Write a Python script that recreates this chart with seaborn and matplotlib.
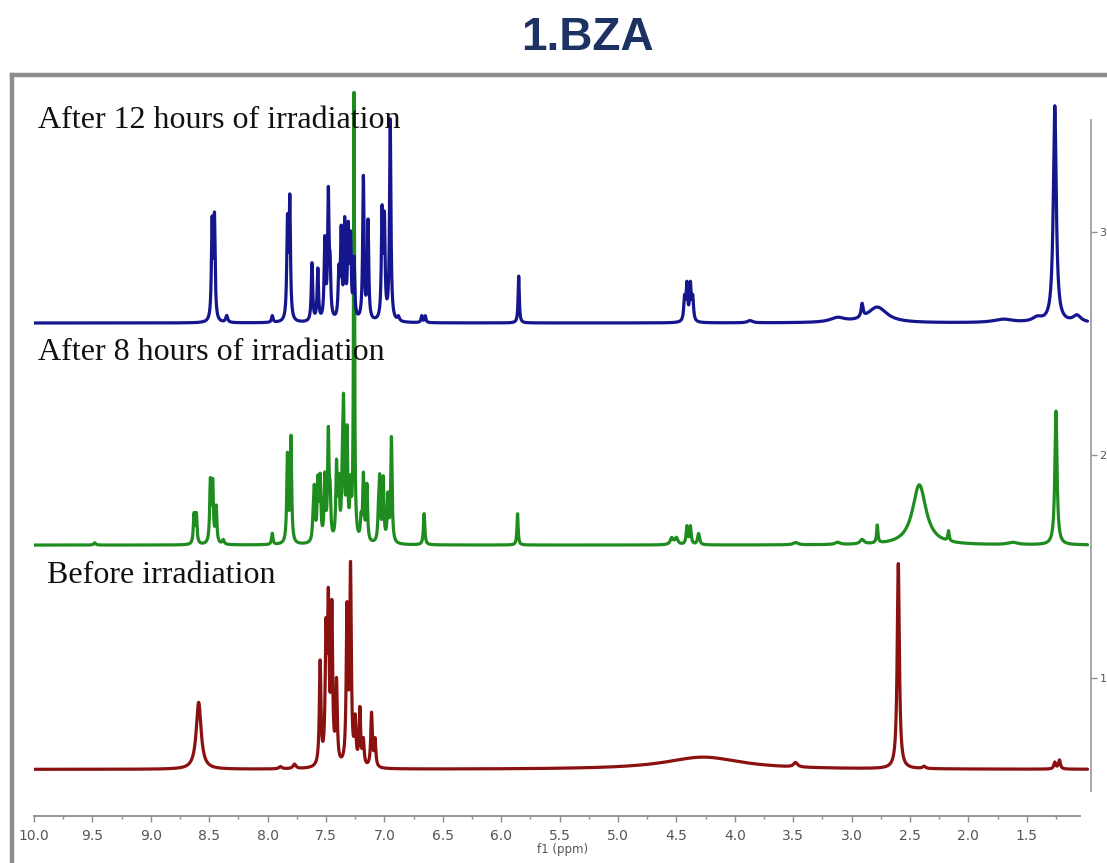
import numpy as np
import pandas as pd
import seaborn as sns
import matplotlib.pyplot as plt
from matplotlib.lines import Line2D

# Peak lists: shift (ppm), height, line width (ppm)
h12_ppm = [8.475, 8.455, 8.35, 7.96, 7.83, 7.81, 7.62, 7.57, 7.51, 7.48, 7.465, 7.39, 7.37,
           7.34, 7.31, 7.29, 7.26, 7.18, 7.14, 7.02, 7.00, 6.95, 6.88, 6.68, 6.65, 5.85,
           4.43, 4.41, 4.38, 4.36, 3.87, 3.12, 2.91, 2.78, 1.70, 1.41, 1.26, 1.07]
h12_height = [0.43, 0.45, 0.03, 0.03, 0.43, 0.53, 0.26, 0.23, 0.35, 0.55, 0.2, 0.2, 0.38,
              0.42, 0.38, 0.34, 0.26, 0.64, 0.44, 0.47, 0.43, 0.90, 0.02, 0.03, 0.03, 0.21,
              0.10, 0.16, 0.16, 0.10, 0.01, 0.02, 0.06, 0.07, 0.015, 0.02, 0.97, 0.03]
h12_width = [0.014, 0.014, 0.02, 0.015, 0.014, 0.014, 0.014, 0.014, 0.014, 0.014, 0.014, 0.014, 0.014,
             0.014, 0.014, 0.014, 0.014, 0.014, 0.014, 0.014, 0.014, 0.014, 0.02, 0.014, 0.014, 0.012,
             0.016, 0.016, 0.016, 0.016, 0.05, 0.15, 0.02, 0.2, 0.2, 0.1, 0.03, 0.08]

h8_ppm = [9.48, 8.63, 8.61, 8.49, 8.47, 8.44, 8.38, 7.96, 7.83, 7.80, 7.61, 7.60, 7.57, 7.55,
          7.51, 7.48, 7.465, 7.41, 7.39, 7.36, 7.35, 7.32, 7.29, 7.26, 7.20, 7.18, 7.15, 7.05,
          7.04, 7.01, 6.97, 6.94, 6.66, 5.86, 4.54, 4.50, 4.41, 4.38, 4.31, 3.48, 3.12, 2.91,
          2.78, 2.42, 2.17, 1.62, 1.25]
h8_height = [0.01, 0.13, 0.13, 0.27, 0.26, 0.16, 0.02, 0.05, 0.39, 0.47, 0.08, 0.22, 0.26, 0.27,
             0.28, 0.47, 0.18, 0.33, 0.24, 0.24, 0.55, 0.47, 0.22, 2.0, 0.09, 0.29, 0.25, 0.11,
             0.26, 0.28, 0.2, 0.47, 0.14, 0.14, 0.03, 0.03, 0.08, 0.08, 0.05, 0.01, 0.01, 0.02,
             0.08, 0.27, 0.045, 0.01, 0.60]
h8_width = [0.02, 0.014, 0.014, 0.014, 0.014, 0.014, 0.02, 0.014, 0.014, 0.014, 0.014, 0.014, 0.014, 0.014,
            0.014, 0.014, 0.014, 0.014, 0.014, 0.014, 0.014, 0.014, 0.014, 0.01, 0.014, 0.014, 0.014, 0.014,
            0.014, 0.014, 0.014, 0.014, 0.014, 0.012, 0.03, 0.03, 0.016, 0.016, 0.02, 0.05, 0.05, 0.04,
            0.014, 0.14, 0.014, 0.1, 0.022]

h0_ppm = [8.59, 7.89, 7.77, 7.55, 7.50, 7.48, 7.45, 7.41, 7.32, 7.29, 7.25, 7.21, 7.18,
          7.11, 7.08, 4.27, 3.48, 2.60, 2.38, 1.26, 1.22]
h0_height = [0.30, 0.01, 0.02, 0.46, 0.55, 0.68, 0.68, 0.36, 0.68, 0.87, 0.19, 0.25, 0.11,
             0.24, 0.12, 0.055, 0.02, 0.92, 0.01, 0.03, 0.04]
h0_width = [0.05, 0.03, 0.03, 0.016, 0.016, 0.016, 0.016, 0.016, 0.016, 0.016, 0.016, 0.016, 0.016,
            0.016, 0.016, 0.8, 0.04, 0.022, 0.03, 0.02, 0.02]

labels = ['Before irradiation', 'After 8 hours of irradiation', 'After 12 hours of irradiation']
offsets = [0.59, 1.596, 2.592]
colors = ['#8b1010', '#1e8c1e', '#15158e']

x = np.linspace(10.0, 0.98, 24000)


def spectrum(ppm, height, width):
    y = np.zeros_like(x)
    for c, h, w in zip(ppm, height, width):
        y += h / (1 + ((x - c) / (w / 2)) ** 2)
    return y


peaks = [(h0_ppm, h0_height, h0_width), (h8_ppm, h8_height, h8_width), (h12_ppm, h12_height, h12_width)]
frames = []
for lab, off, (p, h, w) in zip(labels, offsets, peaks):
    frames.append(pd.DataFrame({'ppm': x, 'intensity': spectrum(p, h, w) + off, 'spectrum': lab}))
df = pd.concat(frames, ignore_index=True)

sns.set_style('white')
W, H = 1107, 863
fig = plt.figure(figsize=(W / 100, H / 100), dpi=100)
ax = fig.add_axes([34 / W, 1 - 816 / H, (1091 - 34) / W, (816 - 90) / H])
ax.patch.set_alpha(0)

sns.lineplot(data=df, x='ppm', y='intensity', hue='spectrum', hue_order=labels,
             palette=colors, sort=False, estimator=None, legend=False, linewidth=2.3, ax=ax)

ax.set_xlim(10.0, 0.95)
ax.set_ylim(0.381, 3.637)

for s in ['top', 'left']:
    ax.spines[s].set_visible(False)
ax.spines['bottom'].set_bounds(10.0, 1.04)
ax.spines['bottom'].set_color('#8c8c8c')
ax.spines['bottom'].set_linewidth(1.3)
ax.spines['right'].set_bounds(0.493, 3.502)
ax.spines['right'].set_color('#a0a0a0')
ax.spines['right'].set_linewidth(1.3)

xt = np.arange(10.0, 1.4, -0.5)
ax.set_xticks(xt)
ax.set_xticklabels([f'{v:.1f}' for v in xt])
ax.set_xticks(np.arange(9.75, 1.1, -0.5), minor=True)
ax.tick_params(axis='x', which='major', direction='out', length=4, width=1, color='#8c8c8c',
               labelsize=10, labelcolor='#555555', pad=5, bottom=True)
ax.tick_params(axis='x', which='minor', direction='out', length=2, width=1, color='#8c8c8c', bottom=True)
ax.set_xlabel('f1 (ppm)', fontsize=8.5, color='#555555', labelpad=0)

ax.yaxis.tick_right()
ax.set_yticks([1, 2, 3])
ax.tick_params(axis='y', direction='out', length=4, width=1, color='#8c8c8c',
               labelsize=8, labelcolor='#555555', pad=2, right=True, left=False)
ax.set_ylabel('')

text_y = [1.426, 2.426, 3.466]
text_x = [9.89, 9.97, 9.97]
for lab, tx, ty in zip(labels, text_x, text_y):
    ax.text(tx, ty, lab, family='Liberation Serif', fontsize=23, color='#111111', va='baseline', ha='left')

fig.text(587 / W, 1 - 38 / H, '1.BZA', ha='center', va='center', fontsize=33,
         fontweight='bold', color='#1c3263', family='Liberation Sans')

fig.add_artist(Line2D([12 / W, 12 / W], [0, 1 - 75 / H], transform=fig.transFigure,
                      color='#8c8c8c', linewidth=3.2, solid_capstyle='projecting'))
fig.add_artist(Line2D([12 / W, 1], [1 - 75 / H, 1 - 75 / H], transform=fig.transFigure,
                      color='#8c8c8c', linewidth=3.2, solid_capstyle='projecting'))

fig.savefig('out.png', dpi=100)
